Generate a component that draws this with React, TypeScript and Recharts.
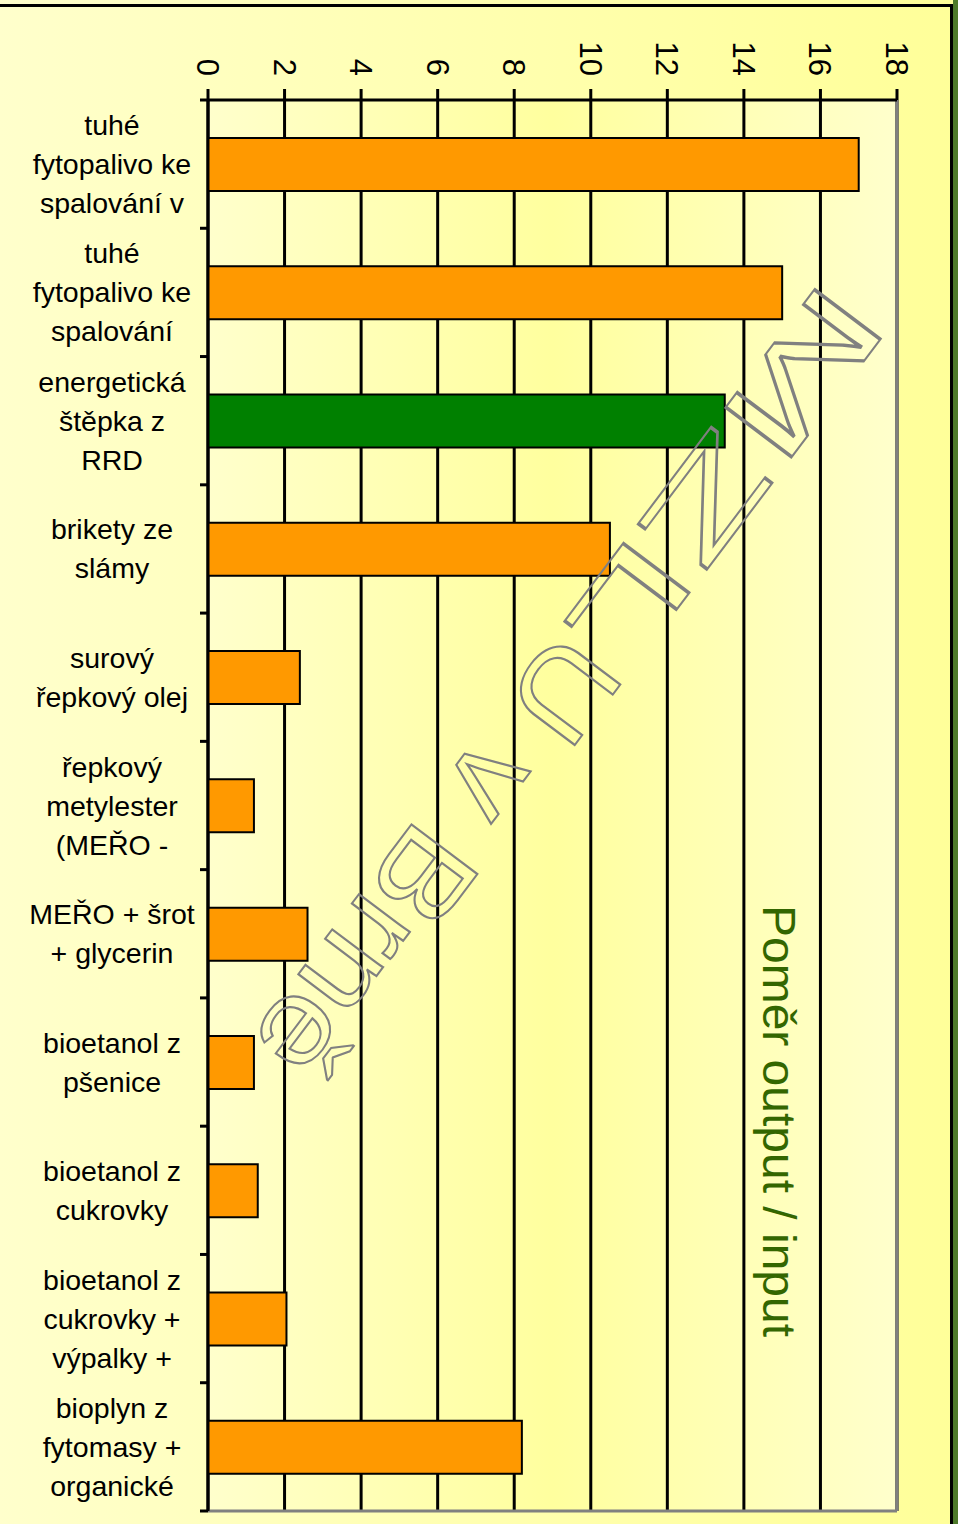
import React from 'react';
import {
  BarChart,
  Bar,
  XAxis,
  YAxis,
  CartesianGrid,
  ReferenceLine,
  Cell
} from 'recharts';

const categories = [
  'tuhé\nfytopalivo ke\nspalování v',
  'tuhé\nfytopalivo ke\nspalování',
  'energetická\nštěpka z\nRRD',
  'brikety ze\nslámy',
  'surový\nřepkový olej',
  'řepkový\nmetylester\n(MEŘO -',
  'MEŘO + šrot\n+ glycerin',
  'bioetanol z\npšenice',
  'bioetanol z\ncukrovky',
  'bioetanol z\ncukrovky +\nvýpalky +',
  'bioplyn z\nfytomasy +\norganické'
];

const ratios = [17, 15, 13.5, 10.5, 2.4, 1.2, 2.6, 1.2, 1.3, 2.05, 8.2];

const barColors = [
  '#FF9900', '#FF9900', '#008000', '#FF9900', '#FF9900', '#FF9900',
  '#FF9900', '#FF9900', '#FF9900', '#FF9900', '#FF9900'
];

const xTicks = [0, 2, 4, 6, 8, 10, 12, 14, 16, 18];

const axisTitle = 'Poměr output / input';
// watermark, split in two so the stretched WordArt spacing can be followed
const watermarkHead = 'MZL';
const watermarkTail = 'U v Brně';

const data = categories.map((name, i) => ({ name, ratio: ratios[i] }));

const FONT = '"Liberation Sans", Arial, sans-serif';
const W = 958;
const H = 1524;
const Y_AXIS_W = 208;

function ValueTick(props: any) {
  const { x, y, payload } = props;
  const px = x - 11;
  const py = y - 11;
  return (
    <text
      x={px}
      y={py}
      transform={`rotate(90, ${px}, ${py})`}
      textAnchor="end"
      fontSize={31}
      fontFamily={FONT}
      fill="#000"
    >
      {payload.value}
    </text>
  );
}

function CategoryTick(props: any) {
  const { y, payload, index } = props;
  const half = payload && payload.offset ? payload.offset : 64.1;
  const lines = String(payload.value).split('\n');
  const lh = 39;
  const cx = 112;
  const start = y - ((lines.length - 1) * lh) / 2;
  return (
    <g>
      {lines.map((ln, i) => (
        <text
          key={i}
          x={cx}
          y={start + i * lh + 10}
          textAnchor="middle"
          fontSize={28.5}
          fontFamily={FONT}
          fill="#000"
        >
          {ln}
        </text>
      ))}
      {index === 0 && (
        <line x1={Y_AXIS_W - 8} x2={Y_AXIS_W} y1={y - half} y2={y - half} stroke="#000" strokeWidth={3} />
      )}
      <line x1={Y_AXIS_W - 8} x2={Y_AXIS_W} y1={y + half} y2={y + half} stroke="#000" strokeWidth={3} />
    </g>
  );
}

export default function App() {
  const wmProps = {
    fontSize: 120,
    fontFamily: FONT,
    dominantBaseline: 'central' as const,
    lengthAdjust: 'spacingAndGlyphs' as const,
    fill: 'none',
    stroke: '#808080',
    strokeWidth: 2
  };
  return (
    <div
      style={{
        position: 'absolute',
        left: 0,
        top: 0,
        width: W,
        height: H,
        background: 'linear-gradient(to right, #FFFFCC 0%, #FFFFB0 50%, #FFFF99 100%)',
        overflow: 'hidden'
      }}
    >
      <div style={{ position: 'absolute', left: 0, top: 4, width: 953, height: 3, background: '#000' }} />
      <div style={{ position: 'absolute', left: 950, top: 4, width: 3, height: H, background: '#000' }} />
      <div style={{ position: 'absolute', left: 953, top: 0, width: 5, height: H, background: '#4E7A2A' }} />

      <div style={{ position: 'absolute', left: 0, top: 0 }}>
        <BarChart
          width={W}
          height={H}
          data={data}
          layout="vertical"
          barSize={53}
          margin={{ top: 0, right: 61, bottom: 12, left: 0 }}
        >
          <defs>
            <linearGradient id="plotFill" x1="0" y1="0" x2="1" y2="0">
              <stop offset="0%" stopColor="#FFFFCC" />
              <stop offset="50%" stopColor="#FFFF9E" />
              <stop offset="100%" stopColor="#FFFFCC" />
            </linearGradient>
          </defs>
          <CartesianGrid
            horizontal={false}
            stroke="#000"
            strokeWidth={3}
            fill="url(#plotFill)"
            fillOpacity={1}
          />
          <XAxis
            type="number"
            orientation="top"
            domain={[0, 18]}
            ticks={xTicks}
            interval={0}
            height={100}
            axisLine={{ stroke: '#000', strokeWidth: 3 }}
            tickLine={{ stroke: '#000', strokeWidth: 3 }}
            tickSize={11}
            tick={<ValueTick />}
          />
          <XAxis
            xAxisId="frame"
            type="number"
            orientation="bottom"
            domain={[0, 18]}
            height={1}
            tick={false}
            tickLine={false}
            axisLine={{ stroke: '#808080', strokeWidth: 3 }}
          />
          <YAxis
            type="category"
            dataKey="name"
            width={Y_AXIS_W}
            interval={0}
            axisLine={{ stroke: '#000', strokeWidth: 3 }}
            tickLine={false}
            tick={<CategoryTick />}
          />
          <ReferenceLine x={18} stroke="#808080" strokeWidth={3} />
          <Bar dataKey="ratio" stroke="#000" strokeWidth={2} isAnimationActive={false}>
            {data.map((d, i) => (
              <Cell key={d.name} fill={barColors[i]} />
            ))}
          </Bar>
        </BarChart>
      </div>

      <svg
        width={W}
        height={H}
        style={{ position: 'absolute', left: 0, top: 0, pointerEvents: 'none' }}
      >
        <text
          x={763}
          y={905}
          transform="rotate(90, 763, 905)"
          fontSize={46}
          fontFamily={FONT}
          textLength={432}
          lengthAdjust="spacingAndGlyphs"
          fill="#336600"
        >
          {axisTitle}
        </text>
        <text
          x={594}
          y={652}
          transform="rotate(127, 594, 652)"
          textAnchor="end"
          textLength={440}
          {...wmProps}
        >
          {watermarkHead}
        </text>
        <text
          x={594}
          y={652}
          transform="rotate(127, 594, 652)"
          textAnchor="start"
          textLength={518}
          {...wmProps}
        >
          {watermarkTail}
        </text>
      </svg>
    </div>
  );
}
